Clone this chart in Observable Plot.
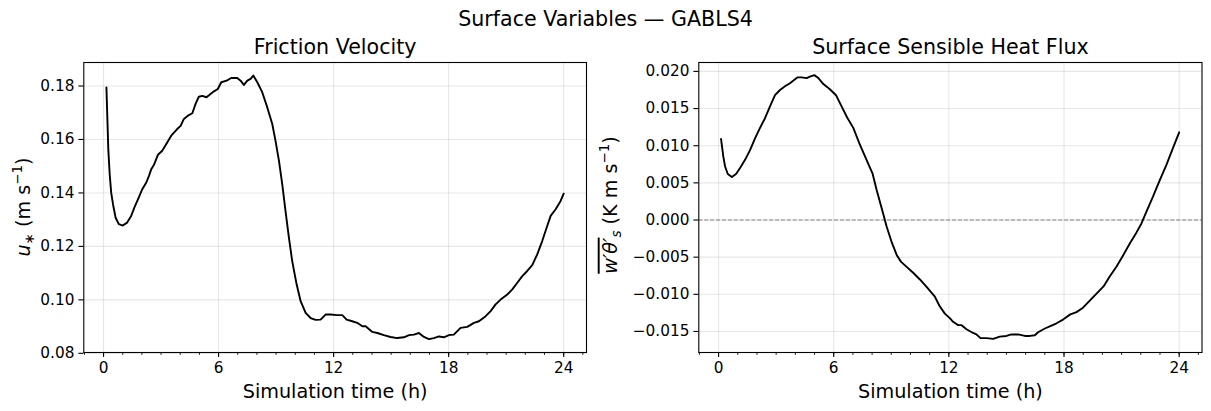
<!DOCTYPE html>
<html>
<head>
<meta charset="utf-8">
<script src="https://cdn.jsdelivr.net/npm/d3@7"></script>
<script src="https://cdn.jsdelivr.net/npm/@observablehq/plot@0.6"></script>
<style>
  html, body { margin: 0; padding: 0; background: white; }
  #wrap { position: relative; width: 1211px; height: 411px; overflow: hidden; font-family: "DejaVu Sans", sans-serif; }
  #wrap > svg { position: absolute; top: 0; }
</style>
</head>
<body>
<div id="wrap"></div>
<script>
// ---- Data ----
const suptitle = "Surface Variables — GABLS4";
const titles = ["Friction Velocity", "Surface Sensible Heat Flux"];
const xLabel = "Simulation time (h)";

const xTicks = [0, 6, 12, 18, 24];
const xMinorTicks = d3.range(-1, 26);
const ustarTicks = [0.08, 0.10, 0.12, 0.14, 0.16, 0.18];
const fluxTicks = [-0.015, -0.010, -0.005, 0.000, 0.005, 0.010, 0.015, 0.020];

const timeUstar = [0.15,0.25,0.32,0.40,0.50,0.63,0.80,1.00,1.23,1.44,1.64,1.84,2.02,2.23,2.37,2.49,2.63,2.84,3.06,3.32,3.53,3.84,4.02,4.19,4.40,4.63,4.80,4.97,5.15,5.37,5.58,5.76,5.96,6.14,6.42,6.66,6.97,7.15,7.32,7.50,7.67,7.81,8.02,8.28,8.54,8.80,8.97,9.15,9.32,9.49,9.67,9.84,10.07,10.28,10.54,10.80,11.06,11.32,11.58,11.84,12.19,12.45,12.68,12.97,13.23,13.50,13.67,14.02,14.28,14.62,14.97,15.32,15.67,15.93,16.19,16.45,16.71,16.97,17.23,17.49,17.75,18.01,18.27,18.62,18.97,19.32,19.58,19.93,20.19,20.45,20.71,21.06,21.32,21.58,21.84,22.10,22.36,22.62,22.88,23.11,23.32,23.58,23.84,24.00];
const ustar = [0.1795,0.1560,0.1470,0.1400,0.1355,0.1307,0.1283,0.1278,0.1289,0.1314,0.1351,0.1383,0.1414,0.1439,0.1464,0.1489,0.1505,0.1543,0.1558,0.1589,0.1614,0.1639,0.1651,0.1677,0.1689,0.1698,0.1733,0.1760,0.1763,0.1758,0.1770,0.1780,0.1789,0.1814,0.1820,0.1830,0.1830,0.1820,0.1804,0.1820,0.1827,0.1839,0.1814,0.1776,0.1720,0.1658,0.1595,0.1520,0.1433,0.1333,0.1232,0.1145,0.1058,0.0995,0.0951,0.0932,0.0925,0.0926,0.0945,0.0945,0.0943,0.0943,0.0926,0.0920,0.0914,0.0901,0.0901,0.0880,0.0876,0.0868,0.0861,0.0857,0.0860,0.0868,0.0870,0.0876,0.0861,0.0853,0.0857,0.0863,0.0860,0.0868,0.0870,0.0895,0.0899,0.0914,0.0920,0.0939,0.0958,0.0983,0.1001,0.1020,0.1039,0.1064,0.1089,0.1108,0.1130,0.1170,0.1220,0.1270,0.1314,0.1339,0.1370,0.1397];

const timeFlux = [0.13,0.25,0.34,0.48,0.69,0.91,1.12,1.38,1.64,1.90,2.16,2.42,2.68,2.94,3.20,3.46,3.72,4.12,4.33,4.59,4.76,4.99,5.20,5.46,5.80,6.12,6.41,6.70,7.02,7.37,7.71,8.03,8.24,8.50,8.76,9.01,9.28,9.50,9.80,10.14,10.49,10.84,11.27,11.50,11.79,12.05,12.22,12.48,12.66,12.92,13.26,13.44,13.65,13.96,14.31,14.65,15.00,15.26,15.61,15.96,16.22,16.48,16.65,17.00,17.35,17.61,17.95,18.33,18.65,18.99,19.43,19.77,20.07,20.38,20.73,21.07,21.42,21.77,22.03,22.29,22.63,22.98,23.33,23.68,24.00];
const flux = [0.0109,0.0085,0.0072,0.0062,0.0058,0.0062,0.0070,0.0081,0.0094,0.0110,0.0124,0.0137,0.0153,0.0168,0.0175,0.0180,0.0184,0.0192,0.0192,0.0191,0.0193,0.0195,0.0191,0.0183,0.0176,0.0168,0.0153,0.0138,0.0124,0.0101,0.0081,0.0062,0.0040,0.0016,-0.0009,-0.0029,-0.0047,-0.0056,-0.0063,-0.0071,-0.0080,-0.0090,-0.0103,-0.0115,-0.0126,-0.0132,-0.0137,-0.01415,-0.01415,-0.0147,-0.0152,-0.0154,-0.0159,-0.0159,-0.0160,-0.0157,-0.0156,-0.0154,-0.0154,-0.0156,-0.0156,-0.0155,-0.0151,-0.0146,-0.0142,-0.0139,-0.0134,-0.0127,-0.0124,-0.0118,-0.0106,-0.0097,-0.0089,-0.0076,-0.0063,-0.0048,-0.0032,-0.0017,-0.0005,0.0011,0.0031,0.0053,0.0074,0.0097,0.0118];

// ---- Style ----
const TICK_FS = 15.3, LABEL_FS = 19.2, TITLE_FS = 20.6;
const gridStyle = {stroke: "#b0b0b0", strokeOpacity: 0.3, strokeWidth: 1.1};

function panel({times, values, yDomain, yTicks, yFormat, title, width, marginLeft, marginRight, zeroLine}) {
  const data = times.map((t, i) => ({t, v: values[i]}));
  const H = 411, mt = 62, mb = 59;
  const svg = Plot.plot({
    width, height: H,
    marginLeft, marginRight, marginTop: mt, marginBottom: mb,
    x: {domain: [-1.03, 25.19]},
    y: {domain: yDomain},
    style: {fontFamily: "DejaVu Sans, sans-serif", fontSize: TICK_FS + "px", color: "black", background: "transparent", overflow: "visible"},
    marks: [
      Plot.gridX(xTicks, gridStyle),
      Plot.gridY(yTicks, gridStyle),
      zeroLine ? Plot.ruleY([0], {stroke: "#808080", strokeWidth: 1.1, strokeDasharray: "4.1,1.8"}) : null,
      Plot.line(data, {x: "t", y: "v", stroke: "black", strokeWidth: 1.9, strokeLinejoin: "round"}),
      Plot.frame({stroke: "black", strokeWidth: 1.1}),
      Plot.axisX(xMinorTicks, {tickSize: 2.8, fill: "none", label: null, strokeWidth: 0.9}),
      Plot.axisX(xTicks, {tickSize: 4.9, tickPadding: 4.5, label: null, strokeWidth: 1.1}),
      Plot.axisY(yTicks, {tickSize: 4.9, tickPadding: 4.5, label: null, tickFormat: d3.format(yFormat), strokeWidth: 1.1}),
      Plot.text([title], {frameAnchor: "top", dy: -9, fontSize: TITLE_FS, lineAnchor: "bottom"}),
      Plot.text([xLabel], {frameAnchor: "bottom", dy: 45, fontSize: LABEL_FS, lineAnchor: "bottom"})
    ]
  });
  return svg;
}

const wrap = document.getElementById("wrap");

// Left panel
const svgL = panel({times: timeUstar, values: ustar, yDomain: [0.0803, 0.1888], yTicks: ustarTicks, yFormat: ".2f",
  title: titles[0], width: 605, marginLeft: 83.3, marginRight: 19});
svgL.style.left = "0px";
wrap.appendChild(svgL);

// Right panel
const svgR = panel({times: timeFlux, values: flux, yDomain: [-0.01783, 0.0212], yTicks: fluxTicks, yFormat: ".3f",
  title: titles[1], width: 606, marginLeft: 93.3, marginRight: 9.5, zeroLine: true});
svgR.style.left = "605px";
wrap.appendChild(svgR);

// Y-axis labels (math-style text)
function yLabel(svg, cx, cy, parts) {
  const t = d3.select(svg).append("text")
    .attr("transform", `translate(${cx},${cy}) rotate(-90)`)
    .attr("text-anchor", "middle")
    .attr("font-size", LABEL_FS)
    .attr("fill", "black")
    .attr("dy", "0.35em");
  for (const p of parts) {
    const s = t.append("tspan").text(p.text);
    if (p.italic) s.attr("font-style", "italic");
    if (p.size) s.attr("font-size", p.size);
    if (p.dy) s.attr("dy", p.dy);
    if (p.over) s.attr("text-decoration", "overline");
  }
}
const SM = LABEL_FS * 0.7;
yLabel(svgL, 23, 207, [
  {text: "u", italic: true},
  {text: "∗", size: SM, dy: 4.5},
  {text: " (m s", dy: -4.5},
  {text: "−1", size: SM, dy: -7.5},
  {text: ")", dy: 7.5}
]);
yLabel(svgR, 5, 205, [
  {text: "w′θ′", italic: true, over: true},
  {text: "s", italic: true, size: SM, dy: 4.5},
  {text: " (K m s", dy: -4.5},
  {text: "−1", size: SM, dy: -7.5},
  {text: ")", dy: 7.5}
]);

// Suptitle
const supSvg = d3.select(wrap).append("svg")
  .attr("width", 1211).attr("height", 40)
  .style("left", "0px");
supSvg.append("text")
  .attr("x", 605.5).attr("y", 26)
  .attr("text-anchor", "middle")
  .attr("font-family", "DejaVu Sans, sans-serif")
  .attr("font-size", TITLE_FS)
  .attr("fill", "black")
  .text(suptitle);
</script>
</body>
</html>
